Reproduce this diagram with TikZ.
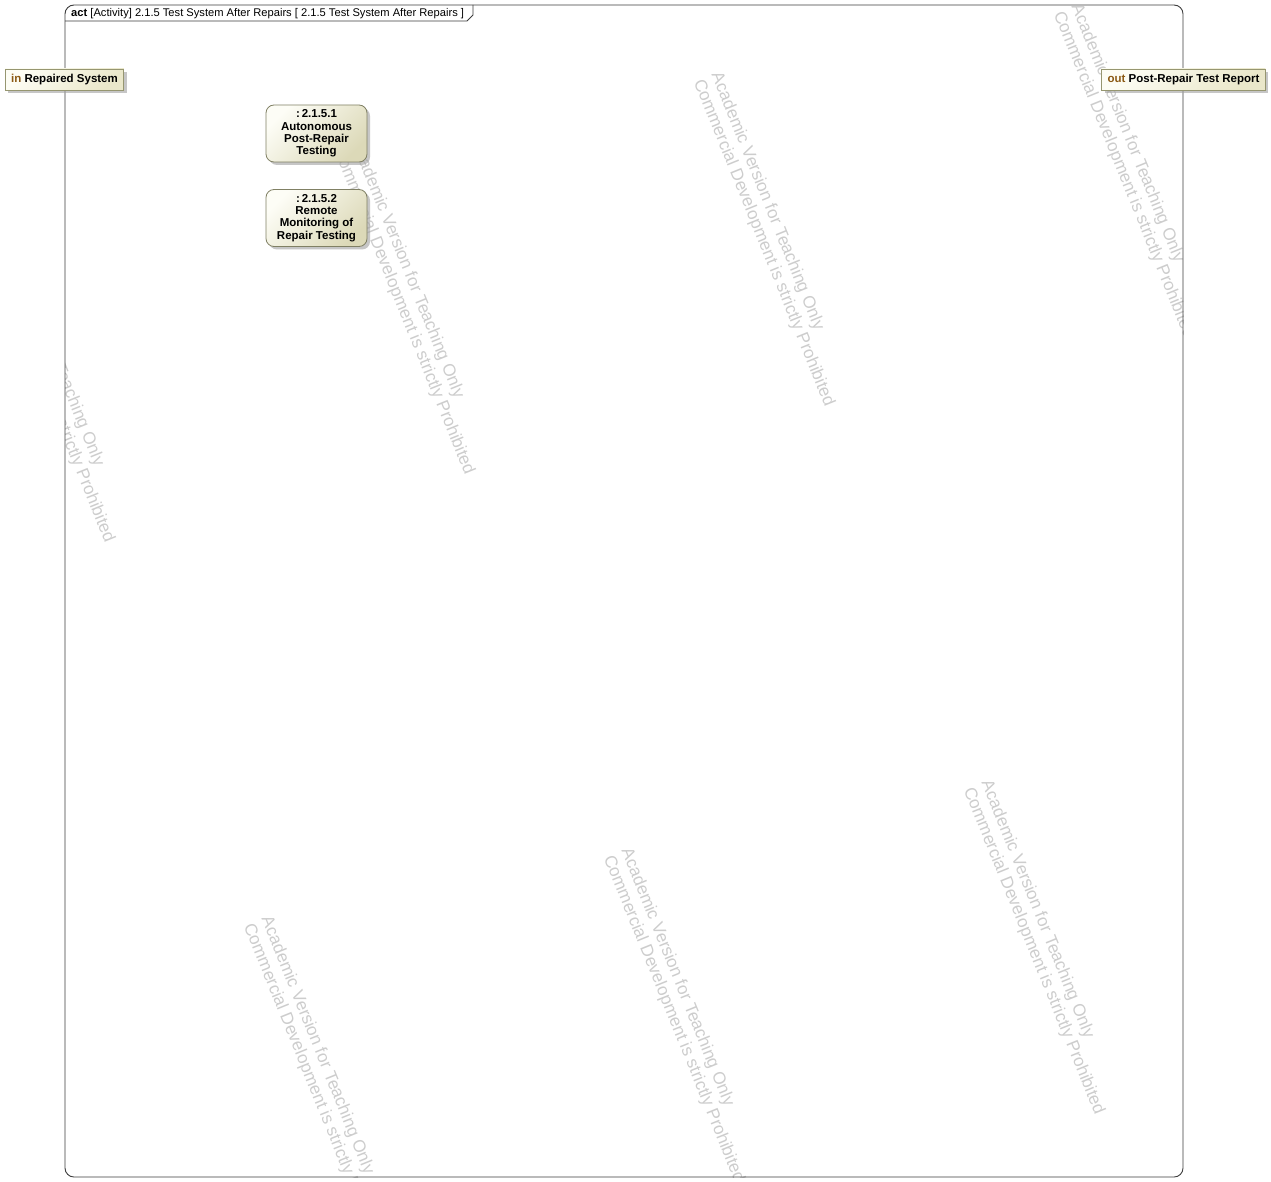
\documentclass[tikz,border=0pt]{standalone}
\usepackage{fontspec}
\setmainfont{Liberation Sans}
\usetikzlibrary{shadows}
\definecolor{wmgray}{RGB}{205,205,205}
\definecolor{framecol}{RGB}{60,60,60}
\definecolor{actborder}{RGB}{128,128,100}
\definecolor{acttop}{RGB}{253,253,246}
\definecolor{actbot}{RGB}{220,217,184}
\definecolor{pinborder}{RGB}{150,150,112}
\definecolor{pintop}{RGB}{253,253,244}
\definecolor{pinbot}{RGB}{234,231,202}
\definecolor{dirbrown}{RGB}{140,90,20}
\definecolor{shadowgray}{RGB}{160,160,160}
\begin{document}
\begin{tikzpicture}[x=1pt,y=-1pt,
  wmark/.style={anchor=north west, inner sep=0pt, rotate=-68, text=wmgray, align=left,
    font=\fontsize{17.2}{19}\selectfont},
  actbox/.style={draw=actborder, line width=0.8pt, rounded corners=8pt,
    minimum width=101pt, minimum height=57pt,
    top color=acttop, bottom color=actbot, shading angle=45,
    drop shadow={shadow xshift=3pt, shadow yshift=-3pt, fill=shadowgray, opacity=0.6},
    align=center, font=\bfseries\fontsize{11.5}{12.3}\selectfont, inner sep=0pt},
  pinbox/.style={draw=pinborder, line width=0.8pt,
    top color=pintop, bottom color=pinbot, shading angle=45,
    drop shadow={shadow xshift=3pt, shadow yshift=-3pt, fill=shadowgray, opacity=0.6},
    inner xsep=6pt, inner ysep=0pt, minimum height=21pt,
    font=\bfseries\fontsize{11.5}{13}\selectfont},
  framestyle/.style={draw=framecol, line width=0.9pt}
]
\useasboundingbox (0,0) rectangle (1271,1182);
\fill[white] (0,0) rectangle (1271,1182);

% watermarks, clipped to the frame
\begin{scope}
\clip[rounded corners=9pt] (65,5) rectangle (1183,1177);
\foreach \wx/\wy [count=\i] in {363/138, 723/70, 1083/2, 3/206, 273/914, 633/846, 993/778}{
  \node[wmark] (wm\i) at (\wx,\wy) {Academic Version for Teaching Only\\Commercial Development is strictly Prohibited};
}
\end{scope}

% frame
\draw[framestyle, rounded corners=9pt] (65,5) rectangle (1183,1177);
\draw[framestyle] (65,21) -- (467,21) -- (473,15) -- (473,5);
\node[anchor=west, inner sep=0pt, font=\fontsize{11.15}{13}\selectfont] (hdr) at (71,14)
  {\textbf{act} [Activity] 2.1.5 Test System After Repairs [ 2.1.5 Test System After Repairs ]};

% pins
\node[pinbox] (pin-in) at (64.5,79.5) {{\color{dirbrown}in} Repaired System};
\node[pinbox] (pin-out) at (1183.5,79.5) {{\color{dirbrown}out} Post-Repair Test Report};

% actions
\node[actbox] (a1) at (316.5,133.5) {:\,2.1.5.1\\Autonomous\\Post-Repair\\Testing};
\node[actbox] (a2) at (316.5,218) {:\,2.1.5.2\\Remote\\Monitoring of\\Repair Testing};
\end{tikzpicture}
\end{document}
